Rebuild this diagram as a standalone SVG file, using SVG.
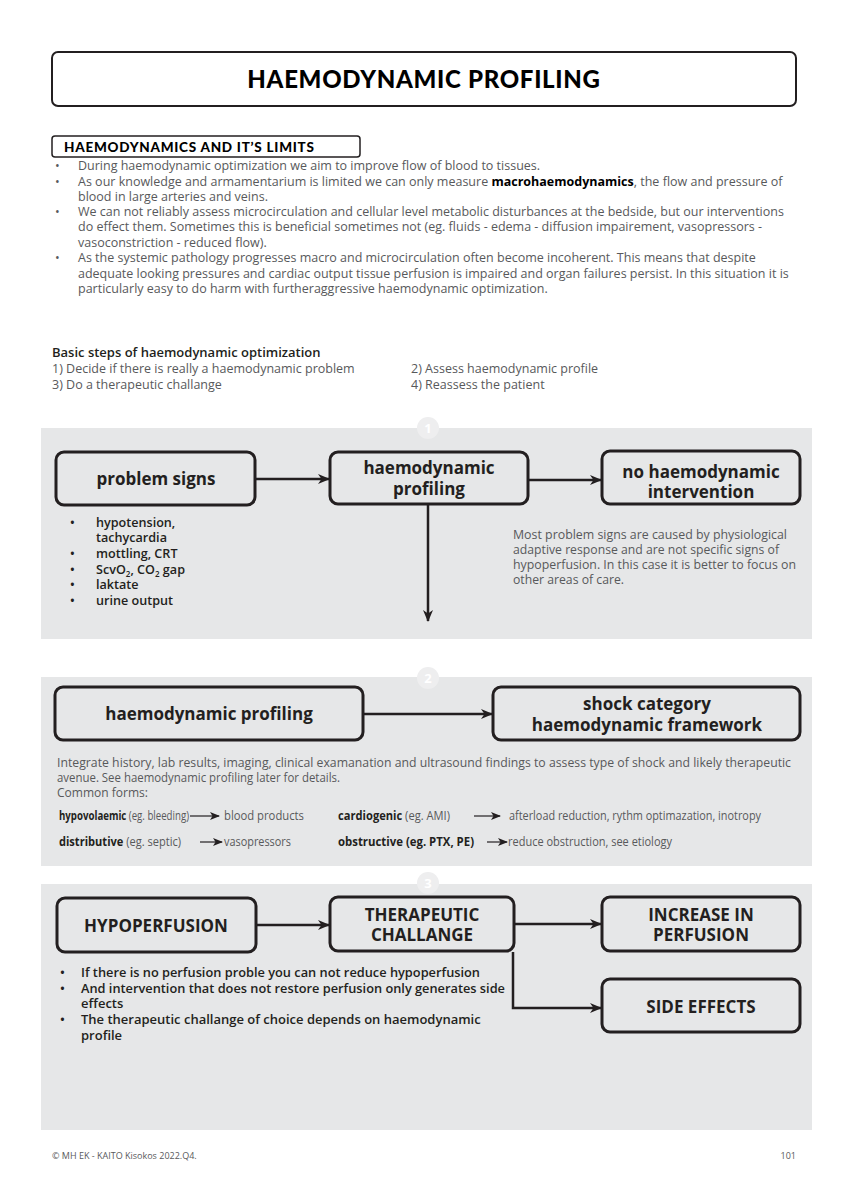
<svg xmlns="http://www.w3.org/2000/svg" width="848" height="1200" viewBox="0 0 848 1200">
<style>
.body{font-family:"Open Sans","Noto Sans",sans-serif;font-size:12.5px;fill:#58595b}
.semi{font-family:"Open Sans","Noto Sans",sans-serif;font-size:13px;fill:#231f20;font-weight:600}
.list{font-family:"Open Sans","Noto Sans",sans-serif;font-size:12.6px;fill:#231f20;font-weight:600}
.cond{font-family:"Open Sans","Noto Sans",sans-serif;font-size:12px;fill:#58595b}
.condb{font-family:"Open Sans","Noto Sans",sans-serif;font-size:12px;fill:#231f20;font-weight:700}
.boxg{fill:#e6e7e8;stroke:#231f20;stroke-width:3}
.bt{font-family:"Open Sans","Noto Sans",sans-serif;font-size:17px;font-weight:700;fill:#231f20;text-anchor:middle}
.panel{fill:#e6e7e8}
.badge{fill:#eeeeef}
.bn{font-family:"Open Sans","Noto Sans",sans-serif;font-size:13px;font-weight:700;fill:#fff;text-anchor:middle}
.conn{stroke:#231f20;stroke-width:2.5;fill:none}
.sm{stroke:#231f20;stroke-width:1.2;fill:none}
</style>
<defs>
<marker id="ah" viewBox="0 0 12 10" refX="11" refY="5" markerWidth="12" markerHeight="10" markerUnits="userSpaceOnUse" orient="auto">
<path d="M0,0 L12,5 L0,10 L3.5,5 z" fill="#231f20"/>
</marker>
<marker id="ahs" viewBox="0 0 10 8" refX="9" refY="4" markerWidth="10" markerHeight="8" markerUnits="userSpaceOnUse" orient="auto">
<path d="M0,0 L10,4 L0,8 L2.5,4 z" fill="#231f20"/>
</marker>
</defs>
<rect width="848" height="1200" fill="#fff"/>

<g id="title">
<rect x="52" y="52" width="744" height="54" rx="6" fill="#fff" stroke="#231f20" stroke-width="2"/>
<text x="424" y="88" font-family="Lato,'Noto Sans',sans-serif" font-size="24" font-weight="900" fill="#000" text-anchor="middle" letter-spacing="0.7">HAEMODYNAMIC PROFILING</text>
</g>

<g id="limits">
<rect x="52" y="136" width="308" height="21" rx="3" fill="#fff" stroke="#231f20" stroke-width="1.5"/>
<text x="64" y="152" font-family="Lato,'Noto Sans',sans-serif" font-size="13.5" font-weight="900" fill="#000" letter-spacing="0.75">HAEMODYNAMICS AND IT’S LIMITS</text>
<g class="body">
<text x="55" y="170">•</text><text x="78" y="170">During haemodynamic optimization we aim to improve flow of blood to tissues.</text>
<text x="55" y="186">•</text><text x="78" y="186">As our knowledge and armamentarium is limited we can only measure <tspan font-weight="700" fill="#000">macrohaemodynamics</tspan>, the flow and pressure of</text>
<text x="78" y="201">blood in large arteries and veins.</text>
<text x="55" y="216">•</text><text x="78" y="216">We can not reliably assess microcirculation and cellular level metabolic disturbances at the bedside, but our interventions</text>
<text x="78" y="231">do effect them. Sometimes this is beneficial sometimes not (eg. fluids - edema - diffusion impairement, vasopressors -</text>
<text x="78" y="247">vasoconstriction - reduced flow).</text>
<text x="55" y="262">•</text><text x="78" y="262">As the systemic pathology progresses macro and microcirculation often become incoherent. This means that despite</text>
<text x="78" y="278">adequate looking pressures and cardiac output tissue perfusion is impaired and organ failures persist. In this situation it is</text>
<text x="78" y="293">particularly easy to do harm with furtheraggressive haemodynamic optimization.</text>
</g>
</g>

<g id="basic-steps">
<text class="semi" x="52" y="357" font-size="12.5">Basic steps of haemodynamic optimization</text>
<text class="body" x="52" y="373">1) Decide if there is really a haemodynamic problem</text>
<text class="body" x="52" y="389">3) Do a therapeutic challange</text>
<text class="body" x="411" y="373">2) Assess haemodynamic profile</text>
<text class="body" x="411" y="389">4) Reassess the patient</text>
</g>

<g id="panel1">
<rect class="panel" x="41" y="428" width="771" height="211"/>
<circle class="badge" cx="428" cy="428" r="11"/>
<text class="bn" x="428" y="433">1</text>
</g>
<g id="panel2">
<rect class="panel" x="41" y="677" width="771" height="189"/>
<circle class="badge" cx="428" cy="678" r="11"/>
<text class="bn" x="428" y="683">2</text>
</g>
<g id="panel3">
<rect class="panel" x="41" y="884" width="771" height="246"/>
<circle class="badge" cx="428" cy="883" r="11"/>
<text class="bn" x="428" y="888">3</text>
</g>

<g id="connectors">
<line class="conn" x1="256" y1="479" x2="329" y2="479" marker-end="url(#ah)"/>
<line class="conn" x1="529" y1="480" x2="601" y2="480" marker-end="url(#ah)"/>
<line class="conn" x1="428" y1="505" x2="428" y2="621" marker-end="url(#ah)"/>
<line class="conn" x1="364" y1="714" x2="492" y2="714" marker-end="url(#ah)"/>
<line class="conn" x1="257" y1="925" x2="329" y2="925" marker-end="url(#ah)"/>
<line class="conn" x1="515" y1="924" x2="601" y2="924" marker-end="url(#ah)"/>
<polyline class="conn" points="513,952 513,1008 601,1008" marker-end="url(#ah)"/>
<line class="sm" x1="190" y1="816" x2="219" y2="816" marker-end="url(#ahs)"/>
<line class="sm" x1="474" y1="816" x2="500" y2="816" marker-end="url(#ahs)"/>
<line class="sm" x1="200" y1="842" x2="222" y2="842" marker-end="url(#ahs)"/>
<line class="sm" x1="487" y1="842" x2="507" y2="842" marker-end="url(#ahs)"/>
</g>

<g id="problem-signs">
<rect class="boxg" x="56" y="452" width="199" height="53" rx="8"/>
<text class="bt" x="156" y="485">problem signs</text>
</g>
<g id="problem-list" class="list">
<text x="70" y="527">•</text><text x="96" y="527">hypotension,</text>
<text x="96" y="542">tachycardia</text>
<text x="70" y="558">•</text><text x="96" y="558">mottling, CRT</text>
<text x="70" y="574">•</text><text x="96" y="574">ScvO<tspan font-size="8" dy="3">2</tspan><tspan dy="-3">, CO</tspan><tspan font-size="8" dy="3">2</tspan><tspan dy="-3"> gap</tspan></text>
<text x="70" y="589">•</text><text x="96" y="589">laktate</text>
<text x="70" y="605">•</text><text x="96" y="605">urine output</text>
</g>
<g id="profiling1">
<rect class="boxg" x="330" y="452" width="198" height="52" rx="8"/>
<text class="bt" x="429" y="474">haemodynamic</text>
<text class="bt" x="429" y="495">profiling</text>
</g>
<g id="no-intervention">
<rect class="boxg" x="602" y="451" width="198" height="53" rx="8"/>
<text class="bt" x="701" y="478">no haemodynamic</text>
<text class="bt" x="701" y="498">intervention</text>
</g>
<g id="note1" class="body">
<text x="513" y="539" textLength="274" lengthAdjust="spacingAndGlyphs">Most problem signs are caused by physiological</text>
<text x="513" y="554" textLength="266" lengthAdjust="spacingAndGlyphs">adaptive response and are not specific signs of</text>
<text x="513" y="569" textLength="283" lengthAdjust="spacingAndGlyphs">hypoperfusion. In this case it is better to focus on</text>
<text x="513" y="584" textLength="111" lengthAdjust="spacingAndGlyphs">other areas of care.</text>
</g>

<g id="profiling2">
<rect class="boxg" x="55" y="687" width="308" height="53" rx="8"/>
<text class="bt" x="209" y="720">haemodynamic profiling</text>
</g>
<g id="shock-category">
<rect class="boxg" x="493" y="687" width="307" height="53" rx="8"/>
<text class="bt" x="647" y="710">shock category</text>
<text class="bt" x="647" y="731">haemodynamic framework</text>
</g>
<g id="note2">
<text class="body" x="57" y="767" textLength="734" lengthAdjust="spacingAndGlyphs">Integrate history, lab results, imaging, clinical examanation and ultrasound findings to assess type of shock and likely therapeutic</text>
<text class="body" x="57" y="782" textLength="283" lengthAdjust="spacingAndGlyphs">avenue. See haemodynamic profiling later for details.</text>
<text class="body" x="57" y="797" textLength="91" lengthAdjust="spacingAndGlyphs">Common forms:</text>
<text class="cond" x="59" y="820" textLength="130" lengthAdjust="spacingAndGlyphs"><tspan class="condb">hypovolaemic</tspan> (eg. bleeding)</text>
<text class="cond" x="224" y="820" textLength="80" lengthAdjust="spacingAndGlyphs">blood products</text>
<text class="cond" x="338" y="820" textLength="112" lengthAdjust="spacingAndGlyphs"><tspan class="condb">cardiogenic</tspan> (eg. AMI)</text>
<text class="cond" x="509" y="820" textLength="252" lengthAdjust="spacingAndGlyphs">afterload reduction, rythm optimazation, inotropy</text>
<text class="cond" x="59" y="846" textLength="122" lengthAdjust="spacingAndGlyphs"><tspan class="condb">distributive</tspan> (eg. septic)</text>
<text class="cond" x="224" y="846" textLength="67" lengthAdjust="spacingAndGlyphs">vasopressors</text>
<text class="condb" x="338" y="846" textLength="136" lengthAdjust="spacingAndGlyphs">obstructive (eg. PTX, PE)</text>
<text class="cond" x="508" y="846" textLength="164" lengthAdjust="spacingAndGlyphs">reduce obstruction, see etiology</text>
</g>

<g id="hypoperfusion">
<rect class="boxg" x="57" y="898" width="199" height="54" rx="8"/>
<text class="bt" x="156" y="932">HYPOPERFUSION</text>
</g>
<g id="therapeutic-challange">
<rect class="boxg" x="330" y="897" width="184" height="54" rx="8"/>
<text class="bt" x="422" y="921">THERAPEUTIC</text>
<text class="bt" x="422" y="941">CHALLANGE</text>
</g>
<g id="increase-perfusion">
<rect class="boxg" x="602" y="897" width="198" height="54" rx="8"/>
<text class="bt" x="701" y="921">INCREASE IN</text>
<text class="bt" x="701" y="941">PERFUSION</text>
</g>
<g id="side-effects">
<rect class="boxg" x="602" y="979" width="198" height="53" rx="8"/>
<text class="bt" x="701" y="1013">SIDE EFFECTS</text>
</g>
<g id="notes3" class="semi" font-size="12.6">
<text x="60" y="977">•</text><text x="81" y="977" textLength="399" lengthAdjust="spacingAndGlyphs">If there is no perfusion proble you can not reduce hypoperfusion</text>
<text x="60" y="993">•</text><text x="81" y="993" textLength="424" lengthAdjust="spacingAndGlyphs">And intervention that does not restore perfusion only generates side</text>
<text x="81" y="1008">effects</text>
<text x="60" y="1024">•</text><text x="81" y="1024">The therapeutic challange of choice depends on haemodynamic</text>
<text x="81" y="1040">profile</text>
</g>

<g id="footer" font-family="'Open Sans','Noto Sans',sans-serif" font-size="9" fill="#58595b">
<text x="52" y="1159">© MH EK - KAITO Kisokos 2022.Q4.</text>
<text x="796" y="1159" text-anchor="end">101</text>
</g>
</svg>
